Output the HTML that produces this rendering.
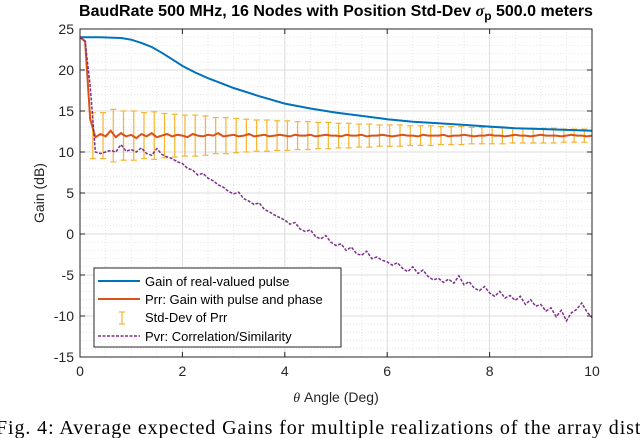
<!DOCTYPE html>
<html><head><meta charset="utf-8"><style>
body{margin:0;background:#fff;width:640px;height:438px;overflow:hidden}
svg{display:block;font-family:"Liberation Sans",sans-serif}
</style></head><body>
<svg id="c" width="640" height="438"></svg>
<script>
const xTicks=[0,2,4,6,8,10];
const yTicks=[25,20,15,10,5,0,-5,-10,-15];
const blueX=[0,0.4,0.8,1.0,1.2,1.4,1.6,1.8,2.0,2.25,2.5,2.75,3.0,3.5,4.0,4.5,5.0,5.5,6.0,6.5,7.0,7.5,8.0,8.5,9.0,9.5,10];
const blueY=[24,24,23.9,23.7,23.3,22.8,22.1,21.3,20.5,19.7,19.0,18.4,17.8,16.8,15.9,15.3,14.8,14.4,14.0,13.7,13.5,13.3,13.1,12.9,12.8,12.7,12.6];
const orangeY=[24,23.5,14,11.8,12.2,11.9,12.6,11.8,12.3,11.9,12.1,11.7,12.2,11.9,12.3,11.8,12.0,12.2,11.9,12.1,12.0,11.8,12.2,12.0,11.9,12.1,12.0,12.3,11.9,12.0,12.1,11.9,12.0,12.2,11.9,12.0,12.1,11.9,12.0,12.1,12.0,11.9,12.1,12.0,12.0,12.1,11.9,12.0,12.1,12.0,12.0,11.9,12.1,12.0,12.0,12.1,11.9,12.0,12.0,12.1,12.0,11.9,12.0,12.1,12.0,12.0,11.9,12.1,12.0,12.0,12.0,12.1,11.9,12.0,12.0,12.1,12.0,11.9,12.0,12.0,12.1,12.0,12.0,11.9,12.0,12.1,12.0,12.0,11.9,12.0,12.1,12.0,12.0,12.0,11.9,12.0,12.1,12.0,12.0,11.9,12.0];
const purpleY=[24,23.5,18,10,9.8,10,10.2,10.0,10.9,10.1,10.3,10.0,10.5,9.8,9.6,10.4,9.7,9.4,9.2,8.8,8.6,8.0,7.8,7.2,7.4,6.8,6.5,6.0,5.7,5.2,4.9,5.1,4.3,4.0,3.6,3.8,3.0,2.7,2.3,2.0,1.7,1.2,1.4,0.6,0.3,0.5,-0.3,-0.6,-0.2,-1.0,-1.4,-1.2,-2.0,-1.6,-2.4,-2.6,-2.1,-3.0,-2.8,-3.2,-3.4,-3.8,-3.5,-4.2,-4.6,-4.0,-4.8,-4.4,-5.2,-5.6,-5.4,-5.9,-5.5,-6.0,-5.1,-6.2,-5.8,-6.6,-6.9,-6.4,-7.2,-7.6,-7.0,-7.8,-7.5,-8.1,-7.6,-8.6,-8.0,-8.8,-8.6,-9.4,-9.0,-10.1,-9.3,-10.6,-9.6,-9.2,-8.4,-9.5,-10.2];
const errH=[2.8,2.8,3.2,3.0,3.0,2.8,2.9,2.7,2.6,2.5,2.5,2.4,2.2,2.2,2.1,2.0,1.9,1.9,1.8,1.8,1.7,1.7,1.6,1.6,1.5,1.5,1.4,1.4,1.3,1.3,1.3,1.2,1.2,1.2,1.1,1.1,1.1,1.0,1.0,1.0,1.0,0.9,0.9,0.9,0.9,0.9,0.8,0.8,0.8];
const errC=[12,12,12,12,12,12,12,12,12,12,12,12,12,12,12,12,12,12,12,12,12,12,12,12,12,12,12,12,12,12,12,12,12,12,12,12,12,12,12,12,12,12,12,12,12,12,12,12,12];

const L=80,R=592,T=29,B=357;
const sx=v=>L+(v/10)*(R-L), sy=v=>T+(25-v)/40*(B-T);
const svg=document.getElementById('c');const NS='http://www.w3.org/2000/svg';
function mk(t,a,p){const e=document.createElementNS(NS,t);for(const k in a)e.setAttribute(k,a[k]);(p||svg).appendChild(e);return e;}
const g=mk('g',{});


for(let v=0;v<=10.001;v+=0.5){const maj=Math.abs(v/2-Math.round(v/2))<1e-6;mk('line',{x1:sx(v),x2:sx(v),y1:T,y2:B,stroke:maj?'#dcdcdc':'#e6e6e6','stroke-dasharray':maj?'':'1,2'},g);}
for(let v=-15;v<=25;v+=1){const maj=v%5==0;mk('line',{x1:L,x2:R,y1:sy(v),y2:sy(v),stroke:maj?'#dcdcdc':'#e6e6e6','stroke-dasharray':maj?'':'1,2'},g);}
function line(xs,ys,col,w,dash,name){let d='';xs.forEach((x,i)=>{d+=(i?'L':'M')+sx(x).toFixed(1)+','+sy(ys[i]).toFixed(1)});const p=mk('path',{d:d,fill:'none',stroke:col,'stroke-width':w});if(dash)p.setAttribute('stroke-dasharray',dash);

}
const xs01=orangeY.map((_,i)=>i/10);
errH.forEach((h,i)=>{const x=0.25+0.2*i,c=errC[i];const eg=mk('g',{stroke:'#f5b530','stroke-width':1.2});


mk('line',{x1:sx(x),x2:sx(x),y1:sy(c-h),y2:sy(c+h)},eg);mk('line',{x1:sx(x)-3,x2:sx(x)+3,y1:sy(c-h),y2:sy(c-h)},eg);mk('line',{x1:sx(x)-3,x2:sx(x)+3,y1:sy(c+h),y2:sy(c+h)},eg);});
line(blueX,blueY,'#0072bd',2,'','gain-real-pulse-line');
line(xs01,orangeY,'#d95319',2,'','prr-line');
line(xs01,purpleY,'#7e2f8e',1.5,'3,1.5','pvr-line');
const ax=mk('rect',{x:L,y:T,width:R-L,height:B-T,fill:'none',stroke:'#262626','stroke-width':1});


xTicks.forEach(v=>{mk('line',{x1:sx(v),x2:sx(v),y1:B,y2:B-5,stroke:'#262626'});mk('line',{x1:sx(v),x2:sx(v),y1:T,y2:T+5,stroke:'#262626'});const t=mk('text',{x:sx(v),y:B+19,'text-anchor':'middle','font-size':14,fill:'#262626'});t.textContent=v;

});
yTicks.forEach(v=>{mk('line',{x1:L,x2:L+5,y1:sy(v),y2:sy(v),stroke:'#262626'});mk('line',{x1:R,x2:R-5,y1:sy(v),y2:sy(v),stroke:'#262626'});const t=mk('text',{x:L-6,y:sy(v)+5,'text-anchor':'end','font-size':14,fill:'#262626'});t.textContent=v;

});
</script>
<svg width="640" height="438" style="position:absolute;left:0;top:0">
<text x="336" y="16" text-anchor="middle" font-size="16" font-weight="bold" font-family="Liberation Sans,sans-serif">BaudRate 500 MHz, 16 Nodes with Position Std-Dev <tspan font-style="italic" font-family="Liberation Serif,serif">σ</tspan><tspan font-size="12" dy="4">p</tspan><tspan dy="-4"> 500.0 meters</tspan></text>
<text x="336" y="402" text-anchor="middle" font-size="14" fill="#262626" font-family="Liberation Sans,sans-serif"><tspan font-style="italic" font-family="Liberation Serif,serif">θ</tspan> Angle (Deg)</text>
<text transform="translate(44,193) rotate(-90)" text-anchor="middle" font-size="14" fill="#262626" font-family="Liberation Sans,sans-serif">Gain (dB)</text>
<g font-family="Liberation Sans,sans-serif" font-size="13" fill="#000">
<rect x="94" y="268" width="247" height="79" fill="#fff" stroke="#262626"/>
<line x1="98" y1="281" x2="140" y2="281" stroke="#0072bd" stroke-width="2"/><text x="145" y="286">Gain of real-valued pulse</text>
<line x1="98" y1="299" x2="140" y2="299" stroke="#d95319" stroke-width="2"/><text x="145" y="304">Prr: Gain with pulse and phase</text>
<g stroke="#f5b530" stroke-width="1.2"><line x1="122" y1="312" x2="122" y2="324"/><line x1="119" y1="312" x2="125" y2="312"/><line x1="119" y1="324" x2="125" y2="324"/></g><text x="145" y="322">Std-Dev of Prr</text>
<line x1="98" y1="336" x2="140" y2="336" stroke="#7e2f8e" stroke-width="1.5" stroke-dasharray="3,1.5"/><text x="145" y="341">Pvr: Correlation/Similarity</text>
</g>
<text x="-4" y="434" font-size="20" textLength="652" lengthAdjust="spacing" font-family="Liberation Serif,serif" fill="#000">Fig. 4: Average expected Gains for multiple realizations of the array distr</text>
</svg>
</body></html>
